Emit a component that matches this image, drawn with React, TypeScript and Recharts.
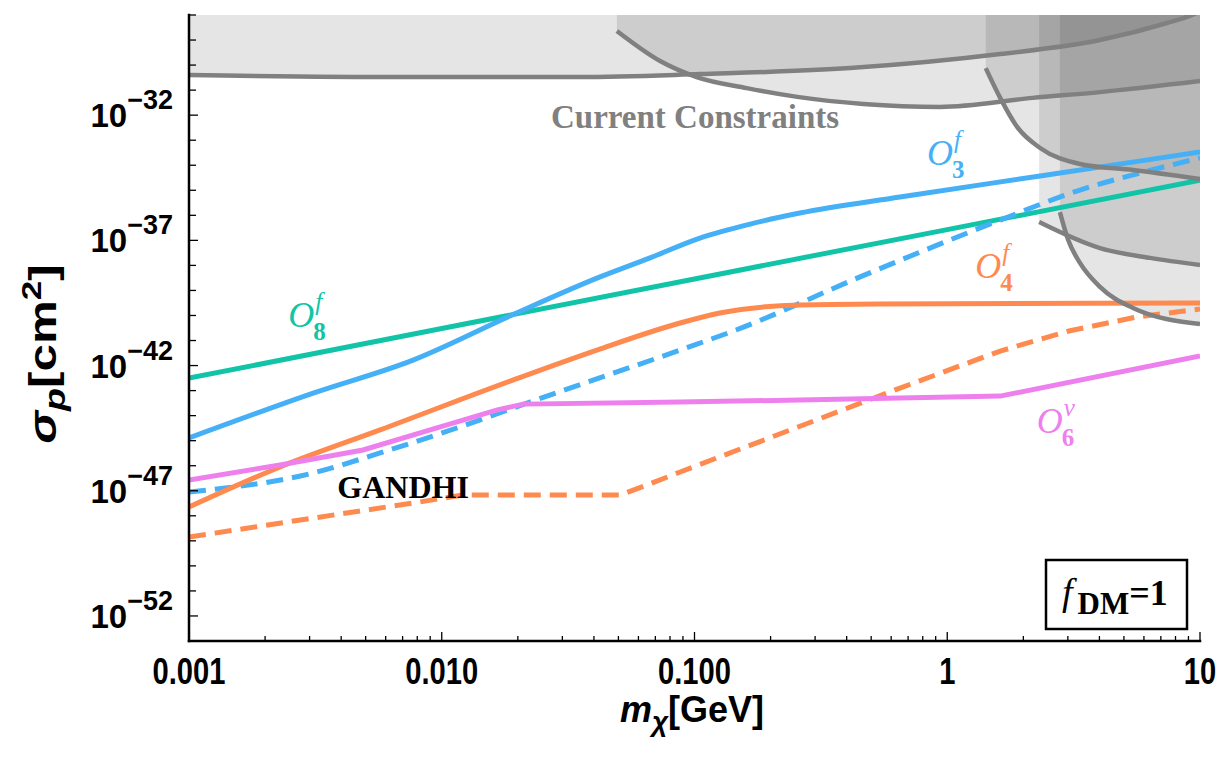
import React from "react";
import { ComposedChart, Line, Area, XAxis, YAxis, ReferenceDot } from "recharts";

const CHART_W = 1226;
const CHART_H = 759;
const PLOT_LEFT = 189;
const PLOT_TOP = 15;
const PLOT_RIGHT = 1200;
const PLOT_BOTTOM = 641;

const SANS = "'Liberation Sans', Arial, Helvetica, sans-serif";
const SERIF = "'Liberation Serif', 'Times New Roman', Times, serif";

const BLUE = "#45b0f6";
const TEAL = "#12c4a7";
const ORANGE = "#ff8a4f";
const PINK = "#ee80ee";
const GRAY = "#808080";

// ---- axes (x: m_chi in GeV, log scale; y: log10 of sigma_p in cm^2) ----
const xDomain = [0.001, 10];
const yDomain = [-53, -28];
const xMajorTicks = [0.001, 0.01, 0.1, 1, 10];
const xMajorLabels = ["0.001", "0.010", "0.100", "1", "10"];
const yLabeledTicks = [-52, -47, -42, -37, -32];
const yLabeledExps = ["\u221252", "\u221247", "\u221242", "\u221237", "\u221232"];

// ---- series: O8^f (teal, solid) ----
const o8Mass = [0.001, 0.01, 0.1, 1, 10];
const o8LogSigma = [-42.5, -40.52, -38.54, -36.57, -34.6];

// ---- O3^f (blue, solid) ----
const o3Mass = [0.001, 0.0031, 0.0077, 0.019, 0.0423, 0.0667, 0.105, 0.166, 0.261, 0.65, 2.33, 10];
const o3LogSigma = [-44.89, -43.1, -41.78, -39.98, -38.46, -37.7, -36.91, -36.35, -35.91, -35.27, -34.43, -33.47];

// ---- O3^f GANDHI (blue, dashed) ----
const o3gMass = [0.001, 0.0031, 0.0057, 0.0142, 0.0223, 0.0877, 0.146, 0.452, 1.62, 3.35, 5.79, 10];
const o3gLogSigma = [-47.05, -46.29, -45.49, -44.17, -43.46, -41.38, -40.58, -38.46, -36.19, -34.99, -34.31, -33.71];

// ---- O4^f (orange, solid) ----
const o4Mass = [0.001, 0.00229, 0.0057, 0.0191, 0.0411, 0.0877, 0.126, 0.261, 0.542, 10];
const o4LogSigma = [-47.65, -46.05, -44.57, -42.58, -41.38, -40.3, -39.9, -39.58, -39.54, -39.5];

// ---- O4^f GANDHI (orange, dashed) ----
const o4gMass = [0.001, 0.0031, 0.0077, 0.0121, 0.0507, 0.0649, 0.0877, 0.65, 1.62, 3.03, 5.63, 10];
const o4gLogSigma = [-48.85, -48.09, -47.49, -47.17, -47.17, -46.77, -46.25, -42.9, -41.42, -40.62, -40.06, -39.74];

// ---- O6^v (pink, solid) ----
const o6Mass = [0.001, 0.00229, 0.00488, 0.009, 0.0166, 0.021, 0.0877, 0.65, 1.62, 10];
const o6LogSigma = [-46.57, -45.97, -45.37, -44.57, -43.77, -43.54, -43.46, -43.3, -43.22, -41.62];

// ---- current constraints (gray boundaries, excluded above) ----
const c1Mass = [0.001, 0.00684, 0.0352, 0.105, 0.412, 1.62, 4.02, 7.4, 9.29, 10];
const c1LogSigma = [-30.4, -30.48, -30.48, -30.36, -30.12, -29.56, -29.0, -28.32, -28.0, -27.85];
const c2Mass = [0.0493, 0.0731, 0.102, 0.161, 0.255, 0.465, 0.936, 2.18, 4.02, 10];
const c2LogSigma = [-28.64, -29.84, -30.48, -30.92, -31.27, -31.55, -31.67, -31.31, -31.08, -30.64];
const c3Mass = [1.42, 1.62, 1.89, 2.33, 3.35, 5.43, 10];
const c3LogSigma = [-30.12, -31.31, -32.47, -33.31, -33.95, -34.19, -34.55];
const c4Mass = [2.31, 4.02, 6.34, 10];
const c4LogSigma = [-36.27, -37.31, -37.7, -37.98];
const c5Mass = [2.79, 3.01, 3.35, 4.02, 5.43, 10];
const c5LogSigma = [-35.87, -36.99, -37.9, -38.86, -39.7, -40.34];

const toLine = (ms: number[], ss: number[]) => ms.map((m, i) => ({ m, s: ss[i] }));
const toBand = (ms: number[], ss: number[]) => ms.map((m, i) => ({ m, r: [ss[i], yDomain[1]] }));

const constraintCurves = [
  toLine(c1Mass, c1LogSigma),
  toLine(c2Mass, c2LogSigma),
  toLine(c3Mass, c3LogSigma),
  toLine(c4Mass, c4LogSigma),
  toLine(c5Mass, c5LogSigma),
];
const constraintBands = [
  toBand(c1Mass, c1LogSigma),
  toBand(c2Mass, c2LogSigma),
  toBand(c3Mass, c3LogSigma),
  toBand(c4Mass, c4LogSigma),
  toBand(c5Mass, c5LogSigma),
];

// tick positions
const xAllTicks: number[] = [];
xMajorTicks.forEach((d, i) => {
  xAllTicks.push(d);
  if (i < xMajorTicks.length - 1) for (let k = 2; k <= 9; k++) xAllTicks.push(+(d * k).toPrecision(6));
});
const yAllTicks: number[] = [];
for (let v = yDomain[0]; v <= yDomain[1]; v++) yAllTicks.push(v);

const xLabelFor = (v: number) => {
  const i = xMajorTicks.findIndex((t) => Math.abs(t - v) / t < 1e-6);
  return i >= 0 ? xMajorLabels[i] : null;
};
const yExpFor = (v: number) => {
  const i = yLabeledTicks.findIndex((t) => Math.abs(t - v) < 1e-6);
  return i >= 0 ? yLabeledExps[i] : null;
};

const TICK_W = 1.3;

function BottomTick(props: any) {
  const { x, y, payload } = props;
  const label = xLabelFor(payload.value);
  const len = label ? 9 : 5;
  return (
    <g>
      <line x1={x} x2={x} y1={y} y2={y - len} stroke="#000" strokeWidth={TICK_W} />
      {label && (
        <text
          x={x}
          y={y + 43}
          textAnchor="middle"
          fontFamily={SANS}
          fontWeight="bold"
          fontSize={31}
          fill="#000"
          transform={`translate(${x} ${y + 43}) scale(0.94 1.18) translate(${-x} ${-(y + 43)})`}
        >
          {label}
        </text>
      )}
    </g>
  );
}
function TopTick(props: any) {
  const { x, y, payload } = props;
  const len = xLabelFor(payload.value) ? 9 : 5;
  return <line x1={x} x2={x} y1={y} y2={y + len} stroke="#000" strokeWidth={TICK_W} />;
}
function LeftTick(props: any) {
  const { x, y, payload } = props;
  const exp = yExpFor(payload.value);
  const len = exp ? 9 : 7;
  return (
    <g>
      <line x1={x} x2={x + len} y1={y} y2={y} stroke="#000" strokeWidth={TICK_W} />
      {exp && (
        <text x={x - 16} y={y + 12} textAnchor="end" fontFamily={SANS} fontWeight="bold" fill="#000">
          <tspan fontSize={33}>10</tspan>
          <tspan fontSize={27} dy={-18}>
            {exp}
          </tspan>
        </text>
      )}
    </g>
  );
}
function RightTick(props: any) {
  const { x, y, payload } = props;
  const len = yExpFor(payload.value) ? 9 : 7;
  return <line x1={x} x2={x - len} y1={y} y2={y} stroke="#000" strokeWidth={TICK_W} />;
}

function OpLabel({ cx, cy, color, sup, sub }: any) {
  return (
    <g fill={color} fontFamily={SERIF}>
      <text x={cx} y={cy} fontStyle="italic" fontSize={36}>
        O
      </text>
      <text x={cx + 27} y={cy - 17} fontStyle="italic" fontSize={25}>
        {sup}
      </text>
      <text x={cx + 25} y={cy + 13} fontWeight="bold" fontSize={25}>
        {sub}
      </text>
    </g>
  );
}

const axisLineStyle = { stroke: "#000", strokeWidth: 2.5, strokeLinecap: "square" as const };
const DASH = "17 9";

export default function App() {
  const lineCommon = { dataKey: "s", dot: false, activeDot: false, isAnimationActive: false, strokeWidth: 5 } as const;
  return (
    <div style={{ position: "absolute", left: 0, top: 0, width: CHART_W, height: CHART_H, background: "#fff" }}>
      <ComposedChart
        width={CHART_W}
        height={CHART_H}
        margin={{ top: PLOT_TOP, right: CHART_W - PLOT_RIGHT, bottom: 0, left: 0 }}
      >
        {/* signal curves */}
        <Line {...lineCommon} data={toLine(o8Mass, o8LogSigma)} type="linear" stroke={TEAL} />
        <Line {...lineCommon} data={toLine(o3Mass, o3LogSigma)} type="monotone" stroke={BLUE} />
        <Line {...lineCommon} data={toLine(o3gMass, o3gLogSigma)} type="monotone" stroke={BLUE} strokeDasharray={DASH} />
        <Line {...lineCommon} data={toLine(o4Mass, o4LogSigma)} type="monotone" stroke={ORANGE} />
        <Line {...lineCommon} data={toLine(o4gMass, o4gLogSigma)} type="linear" stroke={ORANGE} strokeDasharray={DASH} />
        <Line {...lineCommon} data={toLine(o6Mass, o6LogSigma)} type="linear" stroke={PINK} />

        {/* excluded regions */}
        {constraintBands.map((band, i) => (
          <Area
            key={"band" + i}
            data={band}
            dataKey="r"
            type="monotone"
            stroke="none"
            fill="#000"
            fillOpacity={0.1}
            dot={false}
            activeDot={false}
            isAnimationActive={false}
          />
        ))}
        {constraintCurves.map((curve, i) => (
          <Line
            key={"curve" + i}
            data={curve}
            dataKey="s"
            type="monotone"
            stroke={GRAY}
            strokeWidth={4.5}
            dot={false}
            activeDot={false}
            isAnimationActive={false}
          />
        ))}

        {/* annotations */}
        <ReferenceDot
          x={0.1005}
          y={-32.51}
          r={0}
          ifOverflow="visible"
          shape={(p: any) => (
            <text x={p.cx} y={p.cy} textAnchor="middle" fontFamily={SERIF} fontWeight="bold" fontSize={33} fill={GRAY}>
              Current Constraints
            </text>
          )}
        />
        <ReferenceDot
          x={0.00703}
          y={-47.29}
          r={0}
          ifOverflow="visible"
          shape={(p: any) => (
            <text x={p.cx} y={p.cy} textAnchor="middle" fontFamily={SERIF} fontWeight="bold" fontSize={32} fill="#000">
              GANDHI
            </text>
          )}
        />
        <ReferenceDot x={0.832} y={-33.99} r={0} ifOverflow="visible" shape={(p: any) => <OpLabel cx={p.cx} cy={p.cy} color={BLUE} sup="f" sub="3" />} />
        <ReferenceDot x={1.29} y={-38.5} r={0} ifOverflow="visible" shape={(p: any) => <OpLabel cx={p.cx} cy={p.cy} color={ORANGE} sup="f" sub="4" />} />
        <ReferenceDot x={0.00247} y={-40.46} r={0} ifOverflow="visible" shape={(p: any) => <OpLabel cx={p.cx} cy={p.cy} color={TEAL} sup="f" sub="8" />} />
        <ReferenceDot x={2.26} y={-44.69} r={0} ifOverflow="visible" shape={(p: any) => <OpLabel cx={p.cx} cy={p.cy} color={PINK} sup="v" sub="6" />} />
        <ReferenceDot
          x={10}
          y={-53}
          r={0}
          ifOverflow="visible"
          shape={(p: any) => (
            <g>
              <rect x={p.cx - 154} y={p.cy - 81} width={141} height={69} fill="#fff" stroke="#000" strokeWidth={2.5} />
              <text x={p.cx - 138} y={p.cy - 36} fontFamily={SERIF} fill="#000">
                <tspan fontStyle="italic" fontSize={38}>f</tspan>
                <tspan fontWeight="bold" fontSize={31} dx={5} dy={9}>DM</tspan>
                <tspan fontWeight="bold" fontSize={36} dy={-9}>=1</tspan>
              </text>
            </g>
          )}
        />

        {/* frame / axes */}
        <XAxis
          dataKey="m"
          type="number"
          scale="log"
          domain={xDomain}
          allowDataOverflow
          ticks={xAllTicks}
          interval={0}
          height={CHART_H - PLOT_BOTTOM}
          tickSize={0}
          tickMargin={0}
          tickLine={false}
          axisLine={axisLineStyle}
          tick={<BottomTick />}
        />
        <XAxis
          xAxisId="top"
          orientation="top"
          dataKey="m"
          type="number"
          scale="log"
          domain={xDomain}
          allowDataOverflow
          ticks={xAllTicks}
          interval={0}
          height={0}
          tickSize={0}
          tickMargin={0}
          tickLine={false}
          axisLine={axisLineStyle}
          tick={<TopTick />}
        />
        <YAxis
          type="number"
          domain={yDomain}
          allowDataOverflow
          ticks={yAllTicks}
          interval={0}
          width={PLOT_LEFT}
          tickSize={0}
          tickMargin={0}
          tickLine={false}
          axisLine={axisLineStyle}
          tick={<LeftTick />}
        />
        <YAxis
          yAxisId="right"
          orientation="right"
          type="number"
          domain={yDomain}
          allowDataOverflow
          ticks={yAllTicks}
          interval={0}
          width={0}
          tickSize={0}
          tickMargin={0}
          tickLine={false}
          axisLine={axisLineStyle}
          tick={<RightTick />}
        />
        <Line data={toLine(o8Mass, o8LogSigma)} xAxisId="top" yAxisId="right" dataKey="s" stroke="none" dot={false} activeDot={false} isAnimationActive={false} />
      </ComposedChart>
      <svg
        width={CHART_W}
        height={CHART_H}
        style={{ position: "absolute", left: 0, top: 0, pointerEvents: "none" }}
      >
        <text x={692} y={722} textAnchor="middle" fontFamily={SANS} fontWeight="bold" fill="#000">
          <tspan fontStyle="italic" fontSize={36}>m</tspan>
          <tspan fontStyle="italic" fontSize={28} dy={9}>χ</tspan>
          <tspan fontSize={36} dy={-9}>[GeV]</tspan>
        </text>
        <g transform="translate(56 354) rotate(-90) scale(1.3 1)">
          <text x={0} y={0} textAnchor="middle" fontFamily={SANS} fontWeight="bold" fill="#000">
            <tspan fontStyle="italic" fontSize={38}>σ</tspan>
            <tspan fontStyle="italic" fontSize={29} dy={9}>p</tspan>
            <tspan fontSize={38} dy={-9}>[cm</tspan>
            <tspan fontSize={27} dy={-15}>2</tspan>
            <tspan fontSize={38} dy={15}>]</tspan>
          </text>
        </g>
      </svg>
    </div>
  );
}
